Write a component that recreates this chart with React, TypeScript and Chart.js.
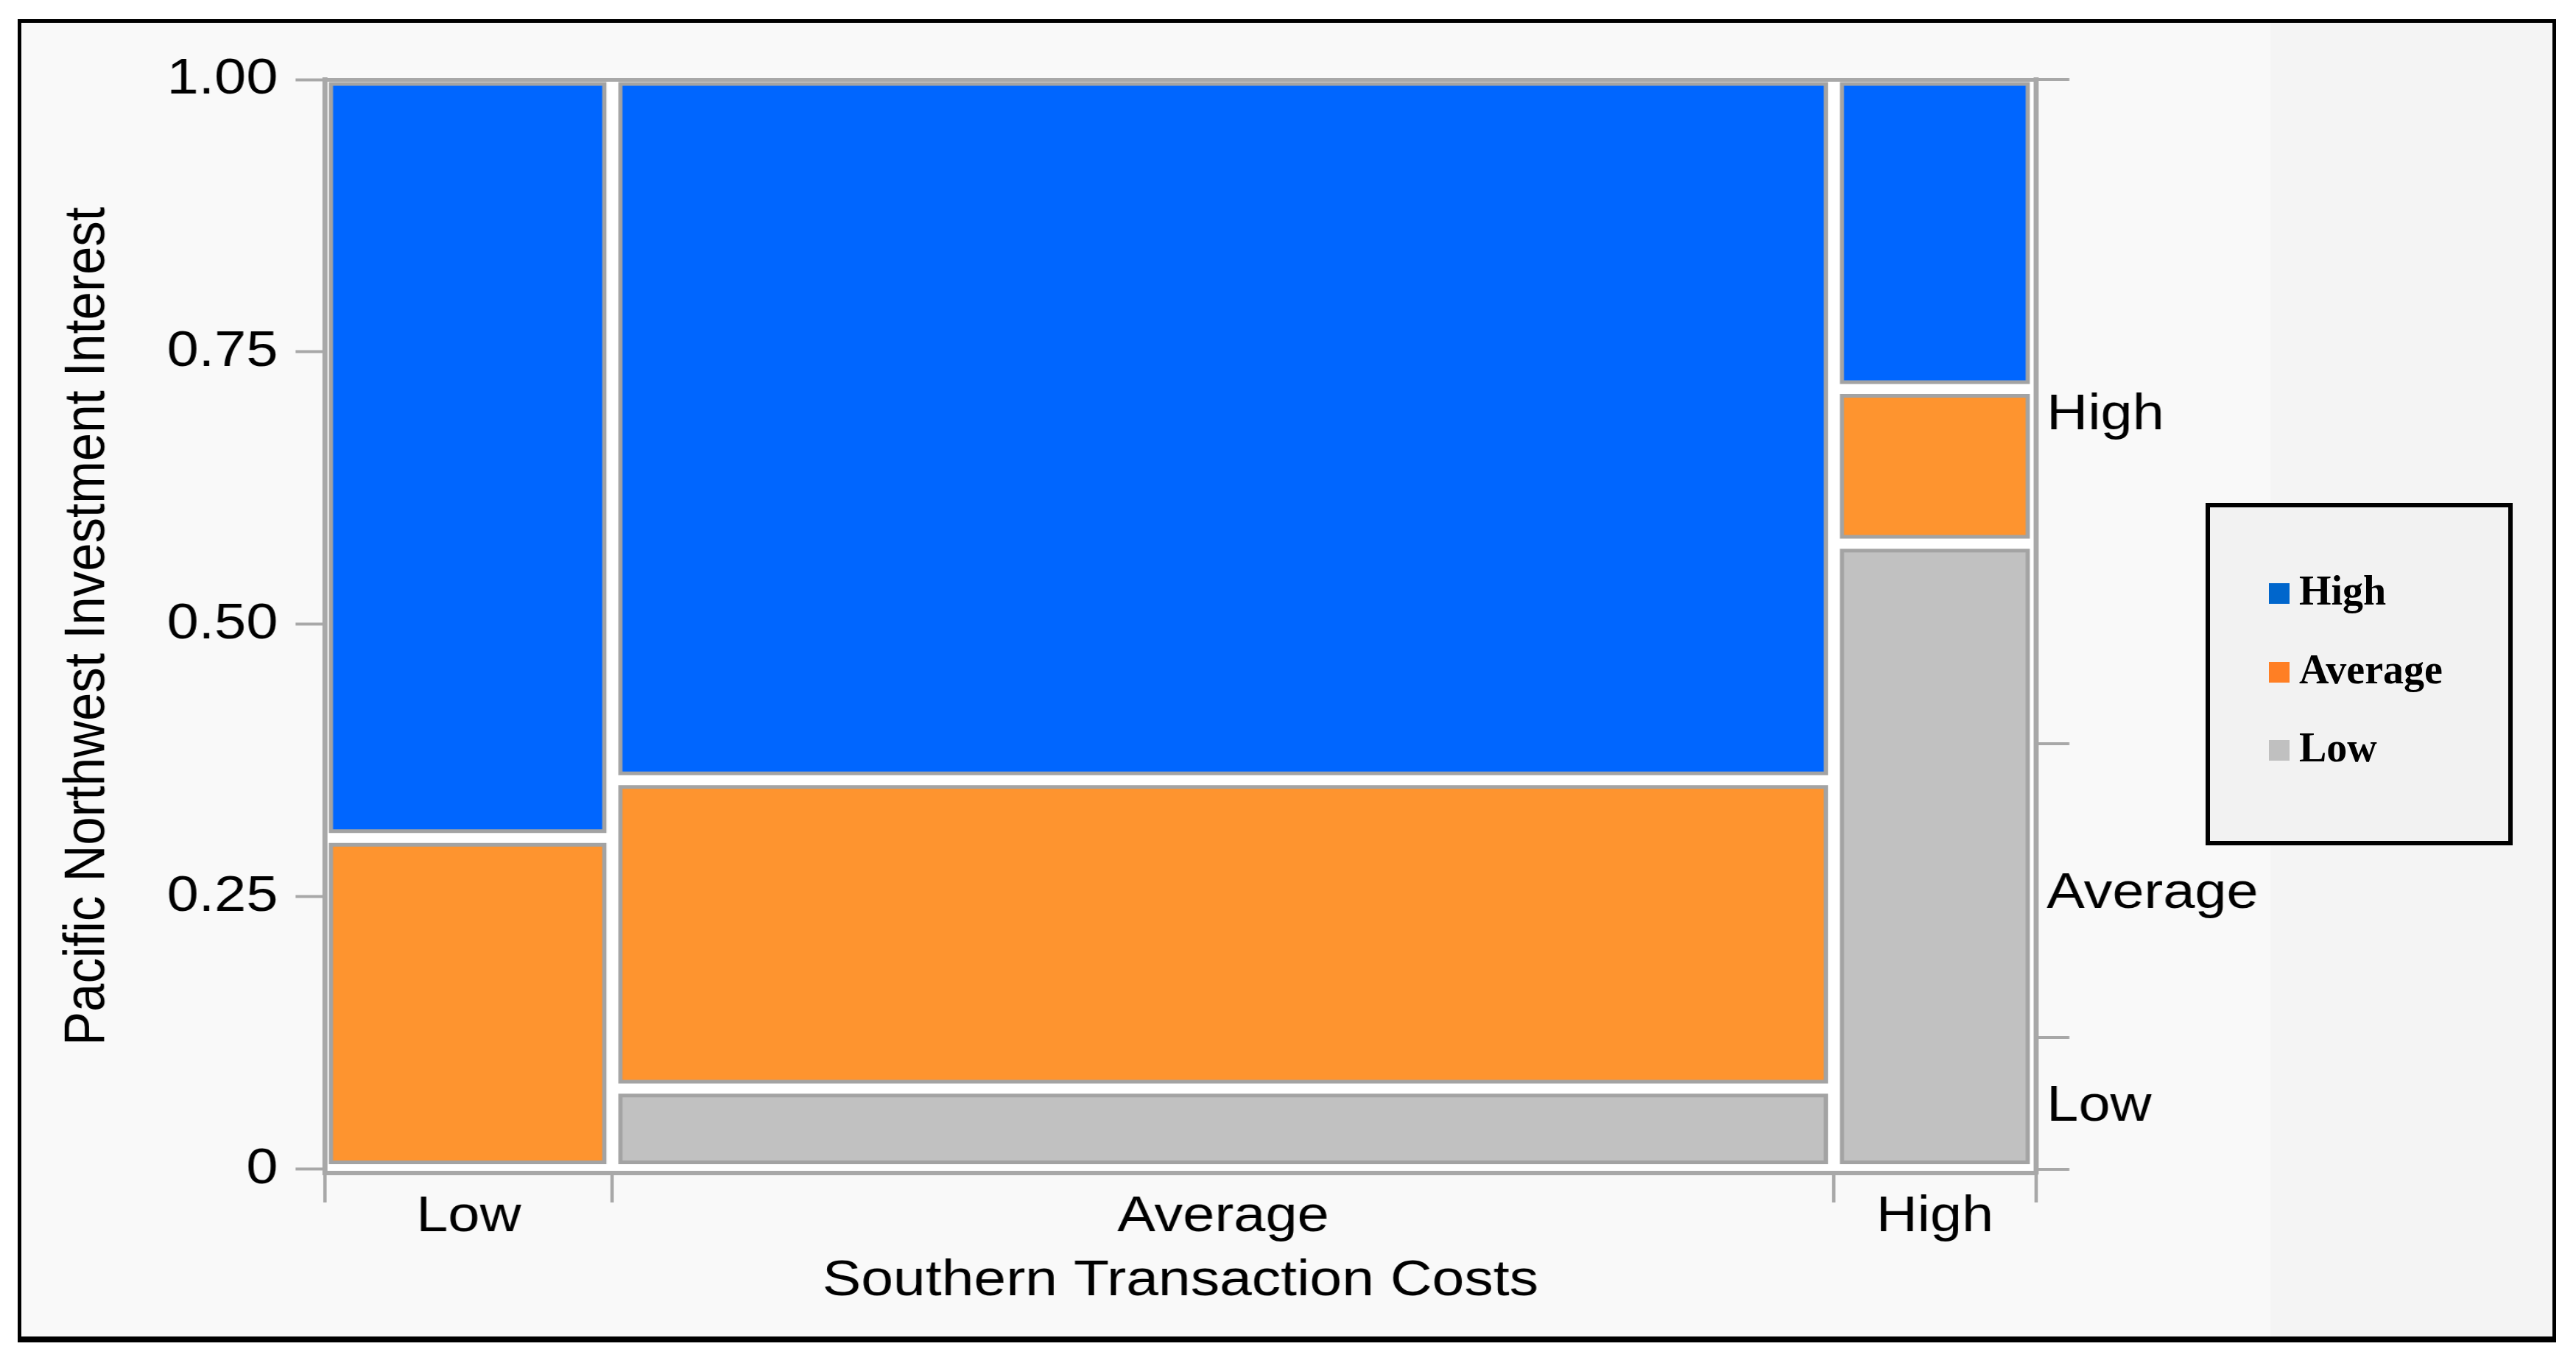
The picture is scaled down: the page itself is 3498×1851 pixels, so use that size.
import React, { useEffect, useRef } from 'react';
import { Chart, registerables } from 'chart.js';

Chart.register(...registerables);

// ---------------- data ----------------
// x: Southern Transaction Costs (column widths = share of observations)
const COST_LEVELS = ['Low', 'Average', 'High'];
const COST_SHARE = [0.168, 0.714, 0.118];
// y: Pacific Northwest Investment Interest, share within each cost column (stacked bottom -> top)
const INTEREST_LEVELS = ['Low', 'Average', 'High'];
const INTEREST_LOW = [0.0, 0.074, 0.574];
const INTEREST_AVERAGE = [0.304, 0.283, 0.142];
const INTEREST_HIGH = [0.696, 0.643, 0.284];
const Y_TICKS = [0, 0.25, 0.5, 0.75, 1];
const Y_TICK_LABELS = ['0', '0.25', '0.50', '0.75', '1.00'];
const LEGEND_LABELS = ['High', 'Average', 'Low'];

// ---------------- styles ----------------
const CELL_COLORS: Record<string, string> = { Low: '#c1c1c1', Average: '#fe942f', High: '#0066ff' };
const LEGEND_COLORS: Record<string, string> = { High: '#0066cc', Average: '#ff7f24', Low: '#c0c0c0' };
const CELL_BORDER = '#a3a3a3';
const AXIS = '#a8a8a8';
const SANS = '"Liberation Sans", Arial, Helvetica, sans-serif';
const SERIF = '"Liberation Serif", "Times New Roman", serif';

const CANVAS_W = 3068;
const CANVAS_H = 1851;
const DISPLAY_W = 3498;
const PLOT_LEFT = 387;
const PLOT_RIGHT = 2424.6;
const PLOT_TOP = 108;
const X_AXIS_H = 258;

const GAP_X = 0.0047;
const GAP_Y = 0.0063;
const EDGE_X = 0.0035;
const EDGE_Y = 0.004;

const STACKS = [INTEREST_LOW, INTEREST_AVERAGE, INTEREST_HIGH];

function buildCells() {
  const cells: any[] = [];
  let x0 = 0;
  COST_SHARE.forEach((w, c) => {
    const x1 = x0 + w;
    let y0 = 0;
    STACKS.forEach((stack, k) => {
      const h = stack[c];
      const y1 = y0 + h;
      if (h > 0) {
        const isTop = k === STACKS.length - 1;
        cells.push({
          level: INTEREST_LEVELS[k],
          col: COST_LEVELS[c],
          L: x0 + (c === 0 ? EDGE_X : GAP_X),
          R: x1 - GAP_X,
          B: y0 + GAP_Y,
          T: y1 - (isTop ? EDGE_Y : GAP_Y),
        });
      }
      y0 = y1;
    });
    x0 = x1;
  });
  return cells;
}

// x ticks: boundaries (tick marks) interleaved with column midpoints (labels)
function buildXTicks() {
  const values: number[] = [];
  const labels: string[] = [];
  const bound: boolean[] = [];
  let x0 = 0;
  values.push(0); labels.push(''); bound.push(true);
  COST_SHARE.forEach((w, c) => {
    values.push(x0 + w / 2); labels.push(COST_LEVELS[c]); bound.push(false);
    x0 += w;
    values.push(x0); labels.push(''); bound.push(true);
  });
  return { values, labels, bound };
}

// right axis: marginal distribution of investment interest
function buildY2Ticks() {
  const marg = STACKS.map((stack) => stack.reduce((s, v, c) => s + v * COST_SHARE[c], 0));
  const values: number[] = [];
  const labels: string[] = [];
  const bound: boolean[] = [];
  let y0 = 0;
  values.push(0); labels.push(''); bound.push(true);
  marg.forEach((m, k) => {
    const isLast = k === marg.length - 1;
    const y1 = isLast ? 1 : y0 + m;
    values.push((y0 + y1) / 2); labels.push(INTEREST_LEVELS[k]); bound.push(false);
    values.push(y1); labels.push(''); bound.push(true);
    y0 = y1;
  });
  return { values, labels, bound };
}

const plotBackground = {
  id: 'plotBackground',
  beforeDraw(chart: any) {
    const { ctx, chartArea: a } = chart;
    ctx.save();
    ctx.fillStyle = '#ffffff';
    ctx.fillRect(a.left, a.top, a.right - a.left, a.bottom - a.top);
    ctx.restore();
  },
};

export default function App() {
  const canvasRef = useRef<HTMLCanvasElement | null>(null);

  useEffect(() => {
    const canvas = canvasRef.current;
    if (!canvas) return;
    const cells = buildCells();
    const xt = buildXTicks();
    const yt2 = buildY2Ticks();

    const datasets: any[] = [];
    cells.forEach((cell) => {
      datasets.push({
        label: `${cell.col} / ${cell.level}`,
        data: [
          { x: cell.L, y: cell.T },
          { x: cell.R, y: cell.T },
        ],
        backgroundColor: CELL_COLORS[cell.level],
        borderColor: 'rgba(0,0,0,0)',
        borderWidth: 0,
        pointRadius: 0,
        tension: 0,
        fill: { target: { value: cell.B } },
        order: 2,
      });
      datasets.push({
        label: `${cell.col} / ${cell.level} outline`,
        data: [
          { x: cell.L, y: cell.B },
          { x: cell.L, y: cell.T },
          { x: cell.R, y: cell.T },
          { x: cell.R, y: cell.B },
          { x: cell.L, y: cell.B },
        ],
        borderColor: CELL_BORDER,
        borderWidth: 5,
        borderJoinStyle: 'miter',
        borderCapStyle: 'square',
        pointRadius: 0,
        tension: 0,
        fill: false,
        order: 1,
      });
    });

    const tickFont = { family: SANS, size: 68 };
    const titleFont = { family: SANS, size: 69 };

    const chart = new Chart(canvas, {
      type: 'line',
      data: { datasets },
      plugins: [plotBackground],
      options: {
        responsive: false,
        animation: false,
        devicePixelRatio: 1,
        layout: { padding: { left: 0, right: 0, top: PLOT_TOP, bottom: 0 } },
        plugins: {
          legend: { display: false },
          tooltip: { enabled: false },
          title: { display: false },
        },
        elements: { point: { radius: 0 } },
        scales: {
          x: {
            type: 'linear',
            min: 0,
            max: 1,
            offset: false,
            afterBuildTicks: (s: any) => {
              s.ticks = xt.values.map((v) => ({ value: v }));
            },
            afterFit: (s: any) => {
              s.height = X_AXIS_H;
            },
            ticks: {
              autoSkip: false,
              maxRotation: 0,
              minRotation: 0,
              padding: -21,
              color: '#000',
              font: tickFont,
              callback: (_v: any, i: number) => xt.labels[i],
            },
            grid: {
              drawOnChartArea: false,
              drawTicks: true,
              tickLength: 40,
              lineWidth: 4,
              color: (ctx: any) => (xt.bound[ctx.index] ? AXIS : 'rgba(0,0,0,0)'),
            },
            border: { display: true, color: AXIS, width: 6 },
            title: {
              display: true,
              text: 'Southern Transaction Costs',
              color: '#000',
              font: titleFont,
              padding: { top: 0, bottom: 70 },
            },
          },
          y: {
            type: 'linear',
            position: 'left',
            min: -0.0035,
            max: 1,
            afterBuildTicks: (s: any) => {
              s.ticks = Y_TICKS.map((v) => ({ value: v }));
            },
            afterFit: (s: any) => {
              s.width = PLOT_LEFT;
            },
            ticks: {
              autoSkip: false,
              padding: 21,
              color: '#000',
              font: tickFont,
              callback: (_v: any, i: number) => Y_TICK_LABELS[i],
            },
            grid: {
              drawOnChartArea: true,
              tickLength: 35,
              lineWidth: 5,
              tickWidth: 4,
              color: (ctx: any) => (ctx.tick && ctx.tick.value === 1 ? AXIS : 'rgba(0,0,0,0)'),
              tickColor: AXIS,
            },
            border: { display: true, color: AXIS, width: 6 },
            title: {
              display: true,
              text: 'Pacific Northwest Investment Interest',
              color: '#000',
              font: titleFont,
              padding: { top: 64, bottom: 0 },
            },
          },
          y2: {
            type: 'linear',
            position: 'right',
            min: -0.0035,
            max: 1,
            afterBuildTicks: (s: any) => {
              s.ticks = yt2.values.map((v) => ({ value: v }));
            },
            afterFit: (s: any) => {
              s.width = CANVAS_W - PLOT_RIGHT;
            },
            ticks: {
              autoSkip: false,
              padding: -27,
              labelOffset: 5,
              color: '#000',
              font: tickFont,
              callback: (_v: any, i: number) => yt2.labels[i],
            },
            grid: {
              drawOnChartArea: false,
              tickLength: 40,
              lineWidth: 4,
              color: (ctx: any) => (yt2.bound[ctx.index] ? AXIS : 'rgba(0,0,0,0)'),
            },
            border: { display: true, color: AXIS, width: 6 },
          },
        },
      } as any,
    });

    return () => {
      chart.destroy();
    };
  }, []);

  return (
    <div
      style={{
        position: 'fixed',
        left: 0,
        top: 0,
        width: DISPLAY_W,
        height: CANVAS_H,
        background: '#ffffff',
        overflow: 'hidden',
      }}
    >
      <div
        style={{
          position: 'absolute',
          left: 24,
          top: 26,
          width: 3447,
          height: 1797,
          boxSizing: 'border-box',
          borderStyle: 'solid',
          borderColor: '#000',
          borderWidth: '5px 5px 8px 5px',
          background: 'linear-gradient(to right, #f9f9f9 3054px, #f4f4f4 3054px)',
        }}
      />
      <canvas
        ref={canvasRef}
        width={CANVAS_W}
        height={CANVAS_H}
        style={{ position: 'absolute', left: 0, top: 0, width: `${DISPLAY_W}px`, height: `${CANVAS_H}px` }}
      />
      <div
        style={{
          position: 'absolute',
          left: 2995,
          top: 683,
          width: 417,
          height: 465,
          boxSizing: 'border-box',
          border: '6px solid #000',
          background: '#f2f2f2',
        }}
      >
        {LEGEND_LABELS.map((lab, i) => (
          <React.Fragment key={lab}>
            <div
              style={{
                position: 'absolute',
                left: 80,
                top: 103 + i * 106.5,
                width: 28,
                height: 28,
                background: LEGEND_COLORS[lab],
              }}
            />
            <div
              style={{
                position: 'absolute',
                left: 121,
                top: 103 + i * 106.5 - 17,
                fontFamily: SERIF,
                fontWeight: 'bold',
                fontSize: 56,
                lineHeight: '55px',
                color: '#000',
                whiteSpace: 'nowrap',
              }}
            >
              {lab}
            </div>
          </React.Fragment>
        ))}
      </div>
    </div>
  );
}
